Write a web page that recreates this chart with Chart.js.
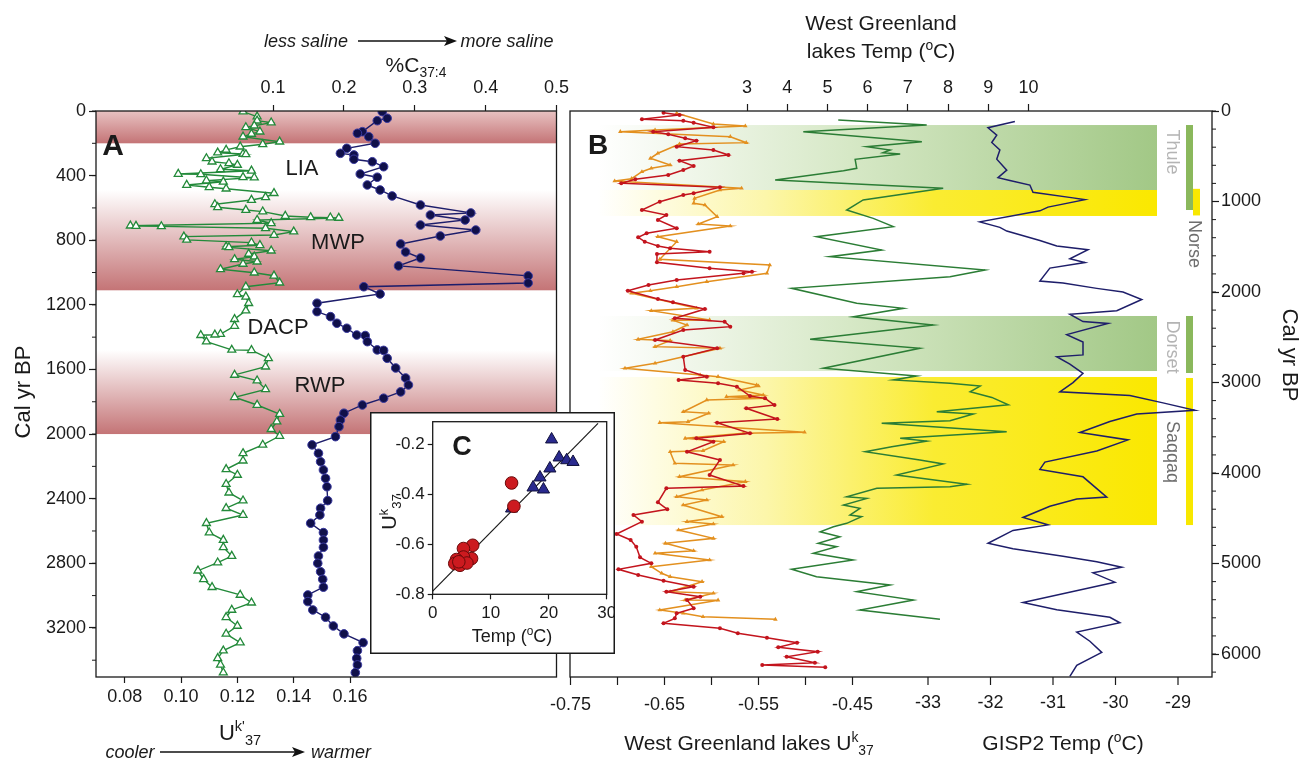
<!DOCTYPE html>
<html lang="en">
<head>
<meta charset="utf-8">
<title>Alkenone records, West Greenland</title>
<script src="https://cdn.jsdelivr.net/npm/chart.js@4.4.1/dist/chart.umd.min.js"></script>
<style>
  html, body { margin: 0; padding: 0; background: #fff; }
  #fig { position: relative; width: 1312px; height: 763px; overflow: hidden;
         font-family: "Liberation Sans", Arial, sans-serif; color: #1a1a1a; }
  #fig canvas { position: absolute; }
  #fig svg { position: absolute; left: 0; top: 0; }
  .t { position: absolute; white-space: nowrap; line-height: 1; transform: translate(-50%, -50%); }
  .it { font-style: italic; }
  .b { font-weight: bold; }
  .up { font-size: 0.66em; position: relative; top: -0.6em; }
  .dn { font-size: 0.66em; position: relative; top: 0.35em; }
  .rl { transform: translate(-50%, -50%) rotate(-90deg); }
  .rr { transform: translate(-50%, -50%) rotate(90deg); }
</style>
</head>
<body>
<div id="fig">
  <canvas id="chart-a" width="570" height="763" style="left:0;top:0"></canvas>
  <canvas id="chart-b" width="772" height="763" style="left:540px;top:0"></canvas>
  <canvas id="chart-c" width="245" height="242" style="left:370px;top:412px"></canvas>

  <svg width="1312" height="763">
    <line x1="358" y1="41" x2="447" y2="41" stroke="#111" stroke-width="1.6"/>
    <polygon points="457,41 444,36 447,41 444,46" fill="#111"/>
    <line x1="160" y1="752" x2="295" y2="752" stroke="#111" stroke-width="1.6"/>
    <polygon points="305,752 292,747 295,752 292,757" fill="#111"/>
  </svg>

  <!-- panel A text -->
  <div class="t it" style="left:306px;top:41px;font-size:18px">less saline</div>
  <div class="t it" style="left:507px;top:41px;font-size:18px">more saline</div>
  <div class="t" style="left:416px;top:64px;font-size:21px">%C<span class="dn">37:4</span></div>
  <div class="t rl" style="left:23px;top:392px;font-size:22px">Cal yr BP</div>
  <div class="t" style="left:240px;top:733px;font-size:22px">U<span class="up">k'</span><span class="dn">37</span></div>
  <div class="t it" style="left:130px;top:752px;font-size:18px">cooler</div>
  <div class="t it" style="left:341px;top:752px;font-size:18px">warmer</div>
  <div class="t b" style="left:113px;top:145px;font-size:30px">A</div>
  <div class="t" style="left:302px;top:168px;font-size:22px">LIA</div>
  <div class="t" style="left:338px;top:242px;font-size:22px">MWP</div>
  <div class="t" style="left:278px;top:327px;font-size:22px">DACP</div>
  <div class="t" style="left:320px;top:385px;font-size:22px">RWP</div>

  <!-- panel B text -->
  <div class="t" style="left:881px;top:22px;font-size:21px">West Greenland</div>
  <div class="t" style="left:881px;top:50px;font-size:21px">lakes Temp (<span class="up">o</span>C)</div>
  <div class="t" style="left:749px;top:742px;font-size:21px">West Greenland lakes U<span class="up">k</span><span class="dn">37</span></div>
  <div class="t" style="left:1063px;top:742px;font-size:21px">GISP2 Temp (<span class="up">o</span>C)</div>
  <div class="t rr" style="left:1290px;top:355px;font-size:22px">Cal yr BP</div>
  <div class="t b" style="left:598px;top:145px;font-size:28px">B</div>
  <div class="t rr" style="left:1173px;top:152px;font-size:18px;color:#b4b4b4">Thule</div>
  <div class="t rr" style="left:1195px;top:244px;font-size:18px;color:#6e6e6e">Norse</div>
  <div class="t rr" style="left:1173px;top:347px;font-size:18px;color:#b4b4b4">Dorset</div>
  <div class="t rr" style="left:1173px;top:452px;font-size:18px;color:#6e6e6e">Saqqaq</div>

  <!-- inset C text -->
  <div class="t b" style="left:462px;top:446px;font-size:27px">C</div>
  <div class="t rl" style="left:389px;top:512px;font-size:20px">U<span class="up">k</span><span class="dn">37</span></div>
  <div class="t" style="left:512px;top:636px;font-size:18px">Temp (<span class="up">o</span>C)</div>
</div>

<script>
// ---------- Panel A: lake alkenone record ----------
var ageUkA = [4, 35, 60, 72, 91, 101, 128, 142, 159, 190, 206, 221, 241, 258, 266, 268, 293, 314, 324, 334,
  361, 370, 390, 392, 410, 412, 431, 438, 458, 472, 481, 509, 534, 551, 578, 596, 613, 623, 650, 658,
  660, 662, 675, 695, 710, 712, 714, 726, 747, 768, 778, 798, 815, 831, 840, 844, 865, 885, 902, 918,
  933, 947, 980, 1001, 1020, 1063, 1088, 1135, 1150, 1190, 1236, 1289, 1331, 1381, 1385, 1388, 1428, 1479, 1481, 1531,
  1583, 1634, 1669, 1723, 1772, 1820, 1876, 1923, 1970, 2012, 2067, 2119, 2165, 2218, 2253, 2310, 2363, 2412, 2459, 2501,
  2552, 2610, 2656, 2701, 2755, 2796, 2846, 2899, 2948, 2996, 3044, 3089, 3134, 3188, 3237, 3291, 3341, 3388, 3429, 3477];
var ukA = [0.122, 0.127, 0.127, 0.132, 0.126, 0.123, 0.128, 0.125, 0.122, 0.135, 0.129, 0.121, 0.116, 0.113, 0.122, 0.123, 0.109, 0.111, 0.117, 0.120,
  0.114, 0.125, 0.099, 0.107, 0.122, 0.126, 0.109, 0.115, 0.102, 0.110, 0.116, 0.133, 0.130, 0.125, 0.112, 0.113, 0.123, 0.129, 0.137, 0.146,
  0.153, 0.156, 0.127, 0.132, 0.082, 0.084, 0.093, 0.130, 0.140, 0.133, 0.101, 0.102, 0.125, 0.128, 0.116, 0.117, 0.132, 0.124, 0.126, 0.119,
  0.127, 0.122, 0.114, 0.126, 0.133, 0.135, 0.123, 0.120, 0.123, 0.124, 0.123, 0.119, 0.119, 0.114, 0.112, 0.107, 0.109, 0.118, 0.125, 0.131,
  0.130, 0.119, 0.127, 0.130, 0.119, 0.127, 0.135, 0.134, 0.132, 0.135, 0.129, 0.122, 0.122, 0.116, 0.120, 0.116, 0.117, 0.122, 0.116, 0.122,
  0.109, 0.110, 0.115, 0.115, 0.118, 0.113, 0.106, 0.108, 0.111, 0.121, 0.125, 0.118, 0.116, 0.120, 0.116, 0.121, 0.115, 0.113, 0.114, 0.115];

var ageC374 = [4, 45, 60, 128, 138, 159, 200, 231, 262, 272, 299, 314, 345, 390, 410, 458, 489, 526, 582, 631,
  644, 675, 706, 737, 774, 823, 873, 910, 959, 1021, 1065, 1088, 1133, 1190, 1242, 1273, 1314, 1345, 1387, 1390,
  1428, 1479, 1482, 1531, 1591, 1653, 1696, 1739, 1778, 1820, 1871, 1913, 1954, 2016, 2067, 2119, 2171, 2222, 2274, 2326,
  2412, 2459, 2501, 2552, 2610, 2656, 2701, 2755, 2800, 2852, 2899, 2948, 2996, 3037, 3089, 3134, 3188, 3237, 3291, 3341,
  3388, 3429, 3477];
var c374 = [0.254, 0.261, 0.247, 0.226, 0.219, 0.235, 0.244, 0.204, 0.195, 0.214, 0.214, 0.240, 0.256, 0.223, 0.247, 0.233, 0.251, 0.268, 0.308, 0.379,
  0.322, 0.371, 0.308, 0.386, 0.336, 0.280, 0.287, 0.308, 0.277, 0.460, 0.460, 0.228, 0.251, 0.162, 0.162, 0.181, 0.190, 0.204, 0.218, 0.230,
  0.233, 0.247, 0.256, 0.261, 0.273, 0.287, 0.291, 0.280, 0.256, 0.226, 0.200, 0.195, 0.193, 0.188, 0.155, 0.164, 0.167, 0.171, 0.174, 0.176,
  0.177, 0.167, 0.166, 0.153, 0.171, 0.171, 0.171, 0.164, 0.163, 0.167, 0.170, 0.171, 0.149, 0.149, 0.156, 0.174, 0.185, 0.200, 0.227, 0.219,
  0.218, 0.219, 0.216];

// warm periods (cal yr BP)
var warmStart = [0, 490, 1480];
var warmEnd = [200, 1110, 2000];

var ageTicksA = [0, 400, 800, 1200, 1600, 2000, 2400, 2800, 3200];
var ukTicksA = [0.08, 0.10, 0.12, 0.14, 0.16];
var c374Ticks = [0.1, 0.2, 0.3, 0.4, 0.5];

// ---------- Panel B: West Greenland lakes + GISP2 ----------
var ageRed = [19, 44, 92, 107, 129, 180, 229, 257, 302, 328, 394, 431, 486, 549, 608, 652, 707, 755, 799, 843,
  909, 928, 1002, 1094, 1149, 1204, 1296, 1351, 1396, 1444, 1492, 1517, 1555, 1580, 1672, 1738, 1776, 1793, 1867, 1923,
  1986, 2077, 2114, 2188, 2290, 2328, 2383, 2420, 2530, 2622, 2715, 2862, 2936, 2972, 3009, 3046, 3149, 3175, 3249, 3285,
  3403, 3444, 3561, 3617, 3654, 3765, 3856, 4022, 4144, 4169, 4324, 4401, 4464, 4538, 4674, 4740, 4815, 4932, 4998, 5064,
  5127, 5190, 5257, 5312, 5367, 5403, 5495, 5550, 5606, 5661, 5716, 5771, 5820, 5875, 5926, 5975, 6030, 6096, 6122, 6147];
var ukRed = [-0.651, -0.634, -0.674, -0.630, -0.619, -0.598, -0.662, -0.646, -0.628, -0.616, -0.637, -0.598, -0.582, -0.634, -0.619, -0.630, -0.646, -0.681, -0.696, -0.591,
  -0.619, -0.630, -0.655, -0.674, -0.648, -0.657, -0.637, -0.669, -0.678, -0.671, -0.657, -0.644, -0.602, -0.658, -0.658, -0.602, -0.557, -0.566, -0.637, -0.667,
  -0.689, -0.657, -0.641, -0.607, -0.639, -0.586, -0.580, -0.630, -0.660, -0.594, -0.630, -0.628, -0.605, -0.635, -0.593, -0.573, -0.559, -0.543, -0.533, -0.563,
  -0.530, -0.594, -0.559, -0.616, -0.598, -0.626, -0.591, -0.602, -0.566, -0.648, -0.657, -0.647, -0.683, -0.674, -0.701, -0.686, -0.680, -0.676, -0.664, -0.699,
  -0.678, -0.651, -0.619, -0.648, -0.612, -0.626, -0.619, -0.637, -0.639, -0.651, -0.591, -0.572, -0.541, -0.509, -0.529, -0.487, -0.520, -0.490, -0.546, -0.479];

var ageOrange = [25, 144, 166, 210, 229, 284, 350, 365, 467, 523, 597, 633, 671, 748, 774, 854, 873, 965, 1020, 1039,
  1168, 1249, 1271, 1389, 1444, 1639, 1702, 1793, 1886, 1941, 1986, 2014, 2180, 2207, 2309, 2312, 2365, 2439, 2523, 2538,
  2604, 2622, 2788, 2843, 2917, 2936, 3028, 3039, 3083, 3138, 3157, 3175, 3193, 3323, 3340, 3433, 3444, 3550, 3561, 3617,
  3654, 3754, 3765, 3893, 3912, 4041, 4096, 4188, 4262, 4298, 4354, 4483, 4538, 4564, 4630, 4722, 4777, 4859, 4887, 4961,
  5035, 5108, 5146, 5201, 5312, 5329, 5403, 5405, 5514, 5550, 5588, 5617];
var ukOrange = [-0.637, -0.598, -0.564, -0.660, -0.697, -0.580, -0.563, -0.634, -0.657, -0.665, -0.644, -0.664, -0.674, -0.685, -0.703, -0.568, -0.591, -0.618, -0.619, -0.607,
  -0.594, -0.614, -0.580, -0.657, -0.637, -0.655, -0.538, -0.541, -0.605, -0.637, -0.665, -0.685, -0.616, -0.664, -0.602, -0.641, -0.626, -0.641, -0.678, -0.644,
  -0.660, -0.591, -0.660, -0.692, -0.612, -0.593, -0.552, -0.550, -0.570, -0.545, -0.584, -0.543, -0.605, -0.630, -0.603, -0.625, -0.655, -0.501, -0.566, -0.628,
  -0.587, -0.609, -0.644, -0.639, -0.577, -0.634, -0.564, -0.610, -0.637, -0.605, -0.630, -0.589, -0.626, -0.598, -0.635, -0.598, -0.649, -0.619, -0.660, -0.602,
  -0.664, -0.653, -0.644, -0.610, -0.644, -0.598, -0.628, -0.593, -0.655, -0.630, -0.609, -0.532];

var ageLakeT = [99, 155, 229, 339, 394, 431, 461, 475, 534, 633, 660, 763, 854, 983, 1094, 1186, 1278, 1389, 1536, 1610,
  1757, 1831, 1959, 2125, 2180, 2273, 2365, 2523, 2622, 2843, 2928, 2972, 3009, 3039, 3103, 3165, 3246, 3323, 3348, 3422,
  3451, 3544, 3617, 3647, 3709, 3765, 3856, 3900, 4022, 4124, 4151, 4169, 4262, 4280, 4354, 4390, 4464, 4483, 4556, 4593,
  4649, 4704, 4777, 4815, 4887, 4961, 5064, 5146, 5238, 5312, 5403, 5514, 5617];
var lakeT = [5.27, 7.47, 4.40, 7.35, 5.98, 6.56, 6.38, 6.81, 5.69, 5.73, 5.40, 3.70, 7.88, 5.89, 5.48, 6.14, 6.64, 4.73, 6.35, 5.06,
  8.92, 8.05, 4.11, 5.73, 6.89, 5.64, 7.63, 4.57, 7.30, 4.90, 7.22, 6.64, 8.05, 8.80, 8.55, 9.09, 9.50, 7.72, 8.63, 8.05,
  6.35, 9.46, 6.81, 7.47, 6.60, 5.94, 7.30, 7.88, 6.72, 8.47, 8.05, 6.23, 5.48, 5.98, 5.40, 5.81, 5.56, 5.85, 5.48, 5.15,
  4.82, 5.31, 4.77, 5.23, 4.65, 5.64, 4.11, 4.73, 6.56, 5.73, 7.14, 5.81, 7.80];

var ageGisp = [115, 185, 266, 348, 430, 532, 654, 736, 768, 818, 899, 960, 980, 1062, 1103, 1225, 1286, 1327, 1430, 1491,
  1532, 1633, 1674, 1736, 1879, 1900, 1960, 2001, 2083, 2206, 2246, 2327, 2348, 2471, 2552, 2695, 2715, 2797, 2899, 3001,
  3103, 3144, 3225, 3307, 3348, 3430, 3553, 3634, 3756, 3879, 3960, 4042, 4266, 4287, 4368, 4491, 4573, 4634, 4777, 4838,
  4919, 4981, 5042, 5103, 5206, 5430, 5512, 5594, 5655, 5757, 5859, 5982, 6124, 6247];
var gispT = [-31.61, -32.04, -31.90, -31.98, -31.85, -31.90, -31.74, -31.88, -31.69, -31.37, -31.32, -30.68, -30.49, -31.08, -31.21, -32.17, -31.85, -31.74, -31.21, -30.94,
  -30.44, -30.73, -30.49, -31.05, -31.21, -30.84, -30.30, -29.88, -29.58, -29.98, -30.73, -30.52, -30.12, -30.78, -30.52, -30.52, -30.94, -30.73, -30.52, -30.68,
  -30.89, -29.77, -29.24, -28.73, -29.66, -30.09, -30.57, -29.80, -30.30, -31.13, -31.21, -30.52, -30.14, -30.62, -31.05, -31.48, -31.08, -31.64, -32.04, -31.64,
  -30.84, -30.30, -29.90, -30.36, -30.01, -31.48, -30.94, -30.09, -29.93, -30.62, -30.41, -30.22, -30.62, -30.73];

// cultural periods (cal yr BP): wide shaded bands and the narrow bars at the right
var cultureStart = [155, 873, 2265, 2939];
var cultureEnd = [873, 1160, 2873, 4575];
var cultureKind = ["green", "yellow", "green", "yellow"];
var barStart = [155, 860, 2265, 2950];
var barEnd = [1094, 1154, 2895, 4575];
var barKind = ["green", "yellow", "green", "yellow"];

var ageTicksB = [0, 1000, 2000, 3000, 4000, 5000, 6000];
var ukTicksB = [-0.75, -0.70, -0.65, -0.60, -0.55, -0.50, -0.45];
var lakeTempTicks = [3, 4, 5, 6, 7, 8, 9, 10];
var gispTicks = [-33, -32, -31, -30, -29];

// ---------- Inset C: calibration ----------
var tempRedC = [13.6, 14.0, 6.9, 5.3, 6.7, 5.3, 4.1, 3.8, 4.7, 5.9, 4.5];
var ukRedC = [-0.355, -0.448, -0.604, -0.617, -0.657, -0.651, -0.661, -0.677, -0.684, -0.675, -0.670];
var tempBlueC = [20.5, 21.8, 23.1, 24.2, 20.2, 18.5, 17.3, 19.1, 13.6];
var ukBlueC = [-0.181, -0.253, -0.264, -0.271, -0.297, -0.333, -0.373, -0.381, -0.457];
var fitTemp = [0, 28.5];
var fitUk = [-0.787, -0.117];
var tempTicksC = [0, 10, 20, 30];
var ukTicksC = [-0.8, -0.6, -0.4, -0.2];

document.addEventListener("DOMContentLoaded", function () {
  var FONT = "'Liberation Sans', Arial, sans-serif";
  var INK = "#1a1a1a";
  Chart.defaults.font.family = FONT;
  Chart.defaults.color = INK;
  Chart.defaults.animation = false;

  function pairs(xs, ys) {
    return xs.map(function (x, i) { return { x: x, y: ys[i] }; });
  }

  // linear axis with fixed tick list and fixed thickness
  function axis(pos, min, max, ticks, size, fmt, pad, tickLen, fontSize) {
    var horizontal = pos === "top" || pos === "bottom";
    return {
      type: "linear",
      position: pos,
      min: min,
      max: max,
      afterBuildTicks: function (scale) {
        scale.ticks = ticks.map(function (v) { return { value: v }; });
      },
      afterFit: function (scale) {
        if (horizontal) scale.height = size; else scale.width = size;
        scale.paddingLeft = scale.paddingRight = scale.paddingTop = scale.paddingBottom = 0;
      },
      border: { display: false },
      grid: { drawOnChartArea: false, drawTicks: true, tickLength: tickLen, tickColor: INK, tickWidth: 1.2 },
      ticks: { font: { size: fontSize || 18 }, color: INK, padding: pad, callback: fmt, maxRotation: 0, autoSkip: false },
    };
  }

  var frame = {
    id: "frame",
    afterDraw: function (chart) {
      var a = chart.chartArea, ctx = chart.ctx;
      ctx.save();
      ctx.strokeStyle = INK;
      ctx.lineWidth = 1.3;
      ctx.strokeRect(a.left, a.top, a.right - a.left, a.bottom - a.top);
      ctx.restore();
    },
  };

  // small ticks between the labelled ones on the age axis
  function minorTicks(scaleId, step, side) {
    return {
      id: "minorTicks",
      afterDraw: function (chart) {
        var s = chart.scales[scaleId], a = chart.chartArea, ctx = chart.ctx;
        var x0 = side === "left" ? a.left : a.right;
        var dir = side === "left" ? -1 : 1;
        ctx.save();
        ctx.strokeStyle = INK;
        ctx.lineWidth = 1;
        for (var v = 0; v <= s.max; v += step) {
          var y = s.getPixelForValue(v);
          ctx.beginPath();
          ctx.moveTo(x0, y);
          ctx.lineTo(x0 + dir * 4, y);
          ctx.stroke();
        }
        ctx.restore();
      },
    };
  }

  // Panel A
  (function renderPanelA() {
    var canvas = document.getElementById("chart-a");

    var warmBands = {
      id: "warmBands",
      beforeDatasetsDraw: function (chart) {
        var a = chart.chartArea, ys = chart.scales.y, ctx = chart.ctx;
        ctx.save();
        warmStart.forEach(function (start, i) {
          var y0 = ys.getPixelForValue(start);
          var y1 = ys.getPixelForValue(warmEnd[i]);
          var g = ctx.createLinearGradient(0, y0, 0, y1);
          g.addColorStop(0, i === 0 ? "rgb(232,194,194)" : "rgb(255,255,255)");
          g.addColorStop(1, "rgb(196,116,118)");
          ctx.fillStyle = g;
          ctx.fillRect(a.left, y0, a.right - a.left, y1 - y0);
        });
        ctx.restore();
      },
    };

    new Chart(canvas, {
      type: "scatter",
      data: {
        datasets: [
          {
            label: "%C37:4",
            data: pairs(c374, ageC374),
            xAxisID: "xc",
            yAxisID: "y",
            showLine: true,
            borderColor: "#1d1d6b",
            borderWidth: 1.4,
            pointStyle: "circle",
            pointRadius: 4.3,
            pointBackgroundColor: "#10104a",
            pointBorderColor: "#3a3aa0",
            pointBorderWidth: 1,
          },
          {
            label: "Uk'37",
            data: pairs(ukA, ageUkA),
            xAxisID: "xu",
            yAxisID: "y",
            showLine: true,
            borderColor: "#238a3a",
            borderWidth: 1.4,
            pointStyle: "triangle",
            pointRadius: 4.6,
            pointBackgroundColor: "#ffffff",
            pointBorderColor: "#238a3a",
            pointBorderWidth: 1.3,
          },
        ],
      },
      options: {
        responsive: false,
        events: [],
        layout: { padding: { left: 0, right: 13.5, top: 0, bottom: 0 } },
        plugins: { legend: { display: false }, tooltip: { enabled: false } },
        scales: {
          y: Object.assign(axis("left", 0, 3504, ageTicksA, 96, function (v) { return String(v); }, 3, 7), { reverse: true }),
          xu: axis("bottom", 0.0698, 0.2333, ukTicksA, 86, function (v) { return v.toFixed(2); }, 3, 6),
          xc: axis("top", -0.15, 0.5, c374Ticks, 111, function (v) { return v.toFixed(1); }, 6, 6),
        },
      },
      plugins: [warmBands, frame, minorTicks("y", 200, "left")],
    });
  })();

  // Panel B
  (function renderPanelB() {
    var canvas = document.getElementById("chart-b");

    var cultureBands = {
      id: "cultureBands",
      beforeDatasetsDraw: function (chart) {
        var a = chart.chartArea, ys = chart.scales.y, ctx = chart.ctx;
        var bandRight = a.right - 55;
        ctx.save();
        cultureStart.forEach(function (start, i) {
          var y0 = ys.getPixelForValue(start);
          var y1 = ys.getPixelForValue(cultureEnd[i]);
          var g = ctx.createLinearGradient(a.left + 28, 0, bandRight, 0);
          if (cultureKind[i] === "green") {
            g.addColorStop(0, "rgb(255,255,255)");
            g.addColorStop(0.45, "rgb(214,232,198)");
            g.addColorStop(1, "rgb(162,200,134)");
          } else {
            g.addColorStop(0, "rgb(255,255,255)");
            g.addColorStop(0.3, "rgb(252,246,170)");
            g.addColorStop(0.6, "rgb(250,236,50)");
            g.addColorStop(1, "rgb(250,232,0)");
          }
          ctx.fillStyle = g;
          ctx.fillRect(a.left, y0, bandRight - a.left, y1 - y0);
        });
        barStart.forEach(function (start, i) {
          var y0 = ys.getPixelForValue(start);
          var y1 = ys.getPixelForValue(barEnd[i]);
          var x = i === 1 ? a.right - 19 : a.right - 26;
          ctx.fillStyle = barKind[i] === "green" ? "rgb(138,184,92)" : "rgb(248,232,0)";
          ctx.fillRect(x, y0, 7, y1 - y0);
        });
        ctx.restore();
      },
    };

    var gispAxis = {
      id: "gispAxis",
      afterDraw: function (chart) {
        var s = chart.scales.xg, a = chart.chartArea, ctx = chart.ctx;
        ctx.save();
        ctx.strokeStyle = INK;
        ctx.fillStyle = INK;
        ctx.lineWidth = 1.2;
        ctx.font = "18px " + FONT;
        ctx.textAlign = "center";
        ctx.textBaseline = "middle";
        gispTicks.forEach(function (v) {
          var x = s.getPixelForValue(v);
          ctx.beginPath();
          ctx.moveTo(x, a.bottom);
          ctx.lineTo(x, a.bottom + 8);
          ctx.stroke();
          ctx.fillText(String(v), x, a.bottom + 26);
        });
        ctx.restore();
      },
    };

    new Chart(canvas, {
      type: "scatter",
      data: {
        datasets: [
          {
            label: "Uk37 red",
            data: pairs(ukRed, ageRed),
            xAxisID: "xu",
            yAxisID: "y",
            showLine: true,
            borderColor: "#c3141d",
            borderWidth: 1.5,
            pointRadius: 2,
            pointBackgroundColor: "#c3141d",
            pointBorderWidth: 0,
          },
          {
            label: "Uk37 orange",
            data: pairs(ukOrange, ageOrange),
            xAxisID: "xu",
            yAxisID: "y",
            showLine: true,
            borderColor: "#e3901f",
            borderWidth: 1.5,
            pointStyle: "triangle",
            pointRadius: 2.6,
            pointBackgroundColor: "#e3901f",
            pointBorderWidth: 0,
          },
          {
            label: "Lake temp",
            data: pairs(lakeT, ageLakeT),
            xAxisID: "xt",
            yAxisID: "y",
            showLine: true,
            borderColor: "#2b7d35",
            borderWidth: 1.5,
            pointRadius: 0,
          },
          {
            label: "GISP2",
            data: pairs(gispT, ageGisp),
            xAxisID: "xg",
            yAxisID: "y",
            showLine: true,
            borderColor: "#1e1e6a",
            borderWidth: 1.5,
            pointRadius: 0,
          },
        ],
      },
      options: {
        responsive: false,
        events: [],
        layout: { padding: { left: 30, right: 0, top: 0, bottom: 0 } },
        plugins: { legend: { display: false }, tooltip: { enabled: false } },
        scales: {
          y: Object.assign(axis("right", 0, 6254, ageTicksB, 100, function (v) { return String(v); }, 2, 7), { reverse: true }),
          xu: axis("bottom", -0.7505, -0.0676, ukTicksB, 86, function (v) {
            return Math.abs(Math.round(v * 100)) % 10 === 5 ? v.toFixed(2) : "";
          }, 9, 8),
          xt: axis("top", -1.403, 14.567, lakeTempTicks, 111, function (v) { return String(v); }, 5, 7),
          xg: { type: "linear", position: "bottom", display: false, min: -38.728, max: -28.456 },
        },
      },
      plugins: [cultureBands, frame, gispAxis, minorTicks("y", 200, "right")],
    });
  })();

  // Inset C
  (function renderInset() {
    var canvas = document.getElementById("chart-c");

    var box = {
      id: "box",
      beforeDraw: function (chart) {
        var ctx = chart.ctx;
        ctx.save();
        ctx.fillStyle = "#ffffff";
        ctx.fillRect(0, 0, chart.width, chart.height);
        ctx.strokeStyle = INK;
        ctx.lineWidth = 1.5;
        ctx.strokeRect(0.75, 0.75, chart.width - 1.5, chart.height - 1.5);
        ctx.restore();
      },
    };

    new Chart(canvas, {
      type: "scatter",
      data: {
        datasets: [
          {
            label: "Greenland lakes",
            data: pairs(tempRedC, ukRedC),
            pointStyle: "circle",
            pointRadius: 6.3,
            pointBackgroundColor: "#cc1a1f",
            pointBorderColor: "#6a0a0a",
            pointBorderWidth: 1,
          },
          {
            label: "Other lakes",
            data: pairs(tempBlueC, ukBlueC),
            pointStyle: "triangle",
            pointRadius: 7,
            pointBackgroundColor: "#2a2a8e",
            pointBorderColor: "#10103a",
            pointBorderWidth: 1,
          },
          {
            label: "Fit",
            data: pairs(fitTemp, fitUk),
            showLine: true,
            borderColor: INK,
            borderWidth: 1.2,
            pointRadius: 0,
          },
        ],
      },
      options: {
        responsive: false,
        events: [],
        layout: { padding: { left: 0, right: 8.3, top: 9.7, bottom: 0 } },
        plugins: { legend: { display: false }, tooltip: { enabled: false } },
        scales: {
          x: axis("bottom", 0, 30, tempTicksC, 59.7, function (v) { return String(v); }, 4, 5, 17),
          y: axis("left", -0.8, -0.11, ukTicksC, 62.7, function (v) { return v.toFixed(1); }, 3, 5, 17),
        },
      },
      plugins: [box, frame],
    });
  })();
});
</script>
</body>
</html>
